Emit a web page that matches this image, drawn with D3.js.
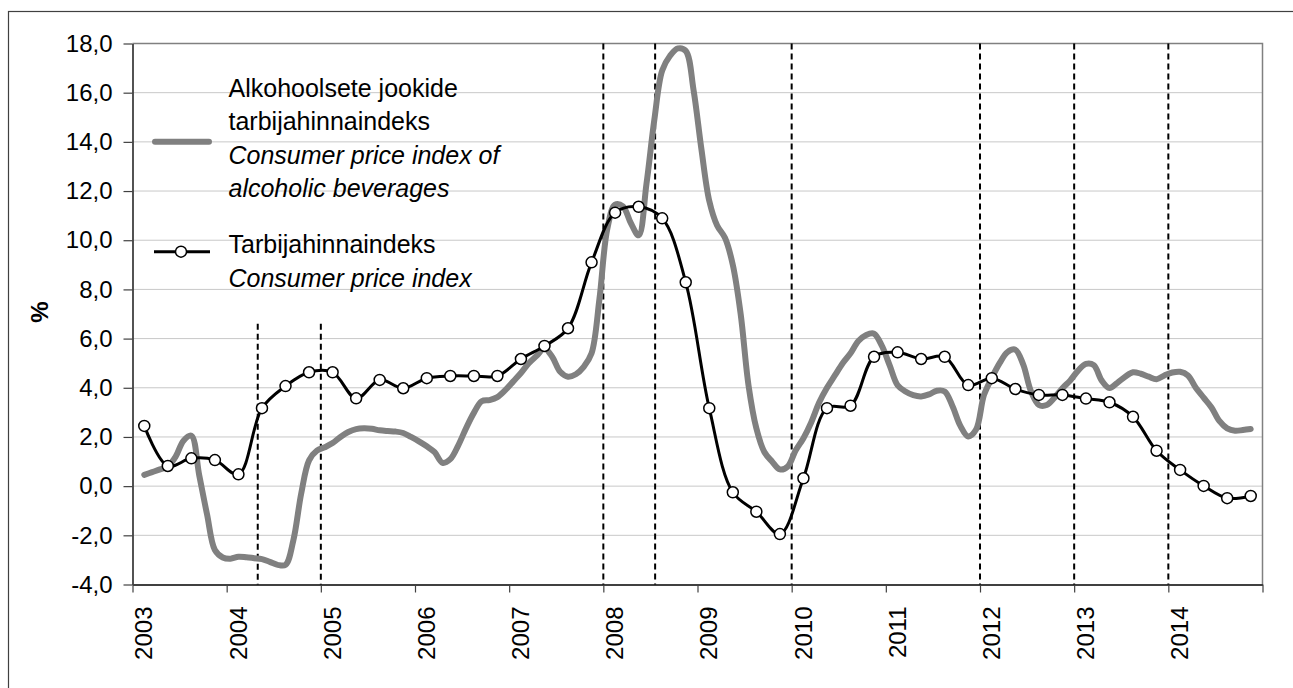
<!DOCTYPE html>
<html>
<head>
<meta charset="utf-8">
<script src="https://cdn.jsdelivr.net/npm/d3@7"></script>
<style>
  body { margin: 0; background: #fff; }
  svg { display: block; font-family: "Liberation Sans", Arial, sans-serif; }
</style>
</head>
<body>
<div id="chart"></div>
<script>
"use strict";

// month index 0 = January 2003; quarterly points sit on the middle month
const startYear = 2003;
const yearTicks = [2003, 2004, 2005, 2006, 2007, 2008, 2009, 2010, 2011, 2012, 2013, 2014, 2015];
const yTicks = [-4, -2, 0, 2, 4, 6, 8, 10, 12, 14, 16, 18];

// alcoholic beverages CPI, monthly, Feb 2003 .. Nov 2014 (%)
const alcoholFirstMonth = 1;
const alcoholValues = [
  0.46, 0.57, 0.68, 0.80, 1.20, 1.85, 2.05, 0.45, -1.15, -2.6, -2.9,
  -2.95, -2.87, -2.89, -2.93, -2.97, -3.08, -3.2, -3.2, -2.2, -0.3, 1.05, 1.44,
  1.58, 1.75, 2.0, 2.2, 2.32, 2.35, 2.33, 2.27, 2.24, 2.22, 2.16, 2.0,
  1.82, 1.62, 1.38, 0.95, 1.1, 1.65, 2.35, 2.98, 3.45, 3.5, 3.62, 3.9,
  4.25, 4.6, 5.0, 5.3, 5.6, 5.25, 4.65, 4.45, 4.55, 4.85, 5.4, 7.6,
  10.45, 11.45, 11.38, 10.7, 10.2, 12.3, 14.9, 16.9, 17.5, 17.8, 17.7, 16.1,
  13.7, 11.6, 10.6, 10.1, 9.0, 7.0, 4.1, 2.35, 1.4, 1.0, 0.68, 0.8,
  1.45, 1.95, 2.6, 3.4, 4.0, 4.5, 5.0, 5.4, 5.9, 6.15, 6.2, 5.7,
  4.9, 4.1, 3.85, 3.7, 3.65, 3.73, 3.88, 3.85, 3.25, 2.45, 2.02, 2.3,
  3.7, 4.4, 5.0, 5.45, 5.55, 4.95, 3.85, 3.3, 3.3, 3.6, 3.98, 4.3,
  4.7, 4.97, 4.92, 4.3, 3.99, 4.2, 4.45, 4.63, 4.57, 4.45, 4.35, 4.5,
  4.62, 4.65, 4.5, 4.0, 3.6, 3.2, 2.65, 2.35, 2.25, 2.28, 2.32
];

// consumer price index, quarterly, 2003 Q1 .. 2014 Q4 (%)
const cpiValues = [
  2.45, 0.82, 1.13, 1.06,
  0.48, 3.17, 4.07, 4.63,
  4.63, 3.57, 4.32, 3.98,
  4.39, 4.48, 4.48, 4.48,
  5.17, 5.70, 6.42, 9.10,
  11.12, 11.36, 10.89, 8.29,
  3.17, -0.25, -1.04, -1.95,
  0.32, 3.17, 3.27, 5.26,
  5.44, 5.17, 5.26, 4.11,
  4.39, 3.95, 3.71, 3.71,
  3.56, 3.41, 2.82, 1.44,
  0.66, 0.01, -0.49, -0.40
];

// vertical dashed event lines (decimal years); the first two are short
const eventYears = [2004.33, 2005, 2008, 2008.55, 2010, 2012, 2013, 2014];
const shortEventYears = [2004.33, 2005];
const shortEventTop = 6.6;

const legendAlcohol = ["Alkohoolsete jookide", "tarbijahinnaindeks", "Consumer price index of", "alcoholic beverages"];
const legendCpi = ["Tarbijahinnaindeks", "Consumer price index"];

const width = 1293, height = 688;
const plot = { left: 132.5, right: 1262.5, top: 43.5, bottom: 584.5 };

const svg = d3.select("#chart").append("svg")
  .attr("width", width)
  .attr("height", height);

// outer frame (runs off the picture on the right and bottom)
svg.append("rect")
  .attr("x", 8.5).attr("y", 11.5)
  .attr("width", 1400).attr("height", 800)
  .attr("fill", "none")
  .attr("stroke", "#404040")
  .attr("stroke-width", 1.2);

const x = d3.scaleLinear().domain([startYear, 2015]).range([plot.left, plot.right]);
const y = d3.scaleLinear().domain([-4, 18]).range([plot.bottom, plot.top]);
const monthX = m => x(startYear + (m + 0.5) / 12);

const locale = d3.formatLocale({ decimal: ",", thousands: " ", grouping: [3], currency: ["", ""], minus: "-" });
const fmt = locale.format(".1f");

// grid lines
svg.append("g")
  .selectAll("line")
  .data(yTicks.filter(d => d > -4 && d < 18))
  .join("line")
  .attr("x1", plot.left).attr("x2", plot.right)
  .attr("y1", d => y(d)).attr("y2", d => y(d))
  .attr("stroke", "#c8c8c8")
  .attr("stroke-width", 1);

// plot border top and right
svg.append("path")
  .attr("d", `M${plot.left},${plot.top}H${plot.right}V${plot.bottom}`)
  .attr("fill", "none")
  .attr("stroke", "#808080")
  .attr("stroke-width", 1.5);

// y axis
const yAxis = svg.append("g")
  .attr("transform", `translate(${plot.left},0)`)
  .call(d3.axisLeft(y).tickValues(yTicks).tickFormat(fmt).tickSize(9).tickPadding(11).tickSizeOuter(0));
yAxis.select(".domain").attr("stroke", "#404040").attr("stroke-width", 1.8);
yAxis.selectAll(".tick line").attr("stroke", "#404040").attr("stroke-width", 1.2);
yAxis.selectAll("text")
  .attr("font-size", 24)
  .attr("font-family", "'Liberation Sans', Arial, sans-serif")
  .attr("fill", "#000");

// x axis
const xAxis = svg.append("g")
  .attr("transform", `translate(0,${plot.bottom})`)
  .call(d3.axisBottom(x).tickValues(yearTicks).tickFormat(d => d < 2015 ? d : "").tickSize(8).tickSizeOuter(0));
xAxis.select(".domain").attr("stroke", "#404040").attr("stroke-width", 1.8);
xAxis.selectAll(".tick line").attr("stroke", "#404040").attr("stroke-width", 1.2);
xAxis.selectAll("text")
  .attr("font-size", 24)
  .attr("font-family", "'Liberation Sans', Arial, sans-serif")
  .attr("fill", "#000")
  .attr("transform", "rotate(-90)")
  .attr("text-anchor", "end")
  .attr("x", -22)
  .attr("y", 11)
  .attr("dy", "0.35em");

// y axis title
svg.append("text")
  .attr("transform", "translate(40,312) rotate(-90)")
  .attr("text-anchor", "middle")
  .attr("dy", "0.35em")
  .attr("font-size", 24)
  .attr("font-weight", "bold")
  .text("%");

// event lines
svg.append("g")
  .selectAll("line")
  .data(eventYears)
  .join("line")
  .attr("x1", d => x(d)).attr("x2", d => x(d))
  .attr("y1", d => shortEventYears.includes(d) ? y(shortEventTop) : plot.top)
  .attr("y2", plot.bottom)
  .attr("stroke", "#000")
  .attr("stroke-width", 2)
  .attr("stroke-dasharray", "6,4");

// alcohol series
const alcoholData = alcoholValues.map((v, i) => ({ m: alcoholFirstMonth + i, v: v }));
const line = d3.line()
  .x(d => monthX(d.m))
  .y(d => y(d.v))
  .curve(d3.curveCatmullRom.alpha(0.5));

svg.append("path")
  .datum(alcoholData)
  .attr("d", line)
  .attr("fill", "none")
  .attr("stroke", "#808080")
  .attr("stroke-width", 6)
  .attr("stroke-linejoin", "round")
  .attr("stroke-linecap", "round");

// cpi series
const cpiData = cpiValues.map((v, i) => ({ m: i * 3 + 1, v: v }));
svg.append("path")
  .datum(cpiData)
  .attr("d", line)
  .attr("fill", "none")
  .attr("stroke", "#000")
  .attr("stroke-width", 3)
  .attr("stroke-linejoin", "round");

svg.append("g")
  .selectAll("circle")
  .data(cpiData)
  .join("circle")
  .attr("cx", d => monthX(d.m))
  .attr("cy", d => y(d.v))
  .attr("r", 5.5)
  .attr("fill", "#fff")
  .attr("stroke", "#000")
  .attr("stroke-width", 1.5);

// legend
const legend = svg.append("g");
legend.append("line")
  .attr("x1", 155).attr("x2", 209)
  .attr("y1", 141.7).attr("y2", 141.7)
  .attr("stroke", "#808080")
  .attr("stroke-width", 6)
  .attr("stroke-linecap", "round");
legend.append("line")
  .attr("x1", 154).attr("x2", 210)
  .attr("y1", 251.7).attr("y2", 251.7)
  .attr("stroke", "#000")
  .attr("stroke-width", 3);
legend.append("circle")
  .attr("cx", 181).attr("cy", 251.7)
  .attr("r", 5.5)
  .attr("fill", "#fff")
  .attr("stroke", "#000")
  .attr("stroke-width", 1.5);

const legendLines = legendAlcohol.map((t, i) => ({ t: t, y: 96.7 + i * 33.4, italic: i >= 2 }))
  .concat(legendCpi.map((t, i) => ({ t: t, y: 253.3 + i * 33.4, italic: i >= 1 })));
legend.selectAll("text")
  .data(legendLines)
  .join("text")
  .attr("x", 228.5)
  .attr("y", d => d.y)
  .attr("font-size", 25)
  .attr("font-style", d => d.italic ? "italic" : "normal")
  .attr("fill", "#000")
  .text(d => d.t);
</script>
</body>
</html>
